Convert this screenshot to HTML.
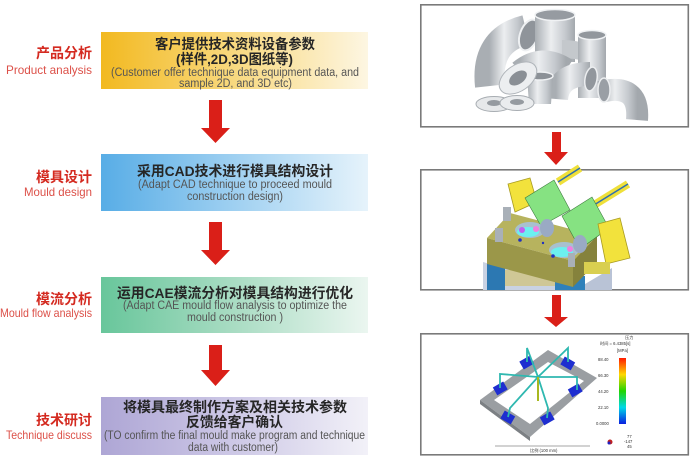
<!DOCTYPE html>
<html><head><meta charset="utf-8"><style>
html,body{margin:0;padding:0;background:#fff;}
svg{display:block;}
.cn{font-family:"Liberation Sans","Noto Sans CJK SC",sans-serif;font-weight:bold;}
.en{font-family:"Liberation Sans","Noto Sans CJK SC",sans-serif;}
</style></head><body>
<svg width="690" height="461" viewBox="0 0 690 461" xmlns="http://www.w3.org/2000/svg">
<defs>
<linearGradient id="g1" x1="0" x2="1" y1="0" y2="0"><stop offset="0" stop-color="#f2b920"/><stop offset="0.45" stop-color="#f8d676"/><stop offset="1" stop-color="#fdf6e2"/></linearGradient>
<linearGradient id="g2" x1="0" x2="1" y1="0" y2="0"><stop offset="0" stop-color="#58ade6"/><stop offset="0.5" stop-color="#9fd0f1"/><stop offset="1" stop-color="#e6f3fb"/></linearGradient>
<linearGradient id="g3" x1="0" x2="1" y1="0" y2="0"><stop offset="0" stop-color="#68c69b"/><stop offset="0.5" stop-color="#a9dcc3"/><stop offset="1" stop-color="#ebf6f0"/></linearGradient>
<linearGradient id="g4" x1="0" x2="1" y1="0" y2="0"><stop offset="0" stop-color="#aea6d5"/><stop offset="0.5" stop-color="#cdc8e6"/><stop offset="1" stop-color="#f2f1f8"/></linearGradient>
<linearGradient id="pv" x1="0" x2="1" y1="0" y2="0"><stop offset="0" stop-color="#a9aeb3"/><stop offset="0.4" stop-color="#eceef0"/><stop offset="0.75" stop-color="#c6cacf"/><stop offset="1" stop-color="#a3a8ad"/></linearGradient>
<linearGradient id="cb" x1="0" x2="0" y1="0" y2="1"><stop offset="0" stop-color="#ff1a00"/><stop offset="0.25" stop-color="#ffd800"/><stop offset="0.5" stop-color="#22d400"/><stop offset="0.75" stop-color="#00d8e8"/><stop offset="1" stop-color="#0a1ee0"/></linearGradient>
</defs>

<!-- Left labels -->
<g fill="#d42a20">
<text class="cn" x="36" y="58" font-size="14" textLength="56" lengthAdjust="spacingAndGlyphs">产品分析</text>
<text class="cn" x="36" y="182" font-size="14" textLength="56" lengthAdjust="spacingAndGlyphs">模具设计</text>
<text class="cn" x="36" y="304" font-size="14" textLength="56" lengthAdjust="spacingAndGlyphs">模流分析</text>
<text class="cn" x="36" y="425" font-size="14" textLength="56" lengthAdjust="spacingAndGlyphs">技术研讨</text>
</g>
<g fill="#dc5048">
<text class="en" x="6" y="74" font-size="12" textLength="86" lengthAdjust="spacingAndGlyphs">Product analysis</text>
<text class="en" x="24" y="196" font-size="12" textLength="68" lengthAdjust="spacingAndGlyphs">Mould design</text>
<text class="en" x="0" y="317" font-size="12" textLength="92" lengthAdjust="spacingAndGlyphs">Mould flow analysis</text>
<text class="en" x="6" y="439" font-size="12" textLength="86" lengthAdjust="spacingAndGlyphs">Technique discuss</text>
</g>

<!-- Boxes -->
<rect x="101" y="32" width="267" height="57" fill="url(#g1)"/>
<rect x="101" y="154" width="267" height="57" fill="url(#g2)"/>
<rect x="101" y="277" width="267" height="56" fill="url(#g3)"/>
<rect x="101" y="397" width="267" height="58" fill="url(#g4)"/>

<g fill="#262626">
<text class="cn" x="155" y="49" font-size="14" textLength="160" lengthAdjust="spacingAndGlyphs">客户提供技术资料设备参数</text>
<text class="cn" x="176" y="64" font-size="14" textLength="117" lengthAdjust="spacingAndGlyphs">(样件,2D,3D图纸等)</text>
<text class="cn" x="137" y="176" font-size="14" textLength="196" lengthAdjust="spacingAndGlyphs">采用CAD技术进行模具结构设计</text>
<text class="cn" x="117" y="298" font-size="14" textLength="236" lengthAdjust="spacingAndGlyphs">运用CAE模流分析对模具结构进行优化</text>
<text class="cn" x="123" y="412" font-size="14" textLength="224" lengthAdjust="spacingAndGlyphs">将模具最终制作方案及相关技术参数</text>
<text class="cn" x="186" y="427" font-size="14" textLength="97" lengthAdjust="spacingAndGlyphs">反馈给客户确认</text>
</g>
<g fill="#555">
<text class="en" x="111" y="76" font-size="11.5" textLength="248" lengthAdjust="spacingAndGlyphs">(Customer offer technique data equipment data, and</text>
<text class="en" x="179" y="87" font-size="11.5" textLength="113" lengthAdjust="spacingAndGlyphs">sample 2D, and 3D etc)</text>
<text class="en" x="138" y="188" font-size="11.5" textLength="194" lengthAdjust="spacingAndGlyphs">(Adapt CAD technique to proceed mould</text>
<text class="en" x="187" y="200" font-size="11.5" textLength="96" lengthAdjust="spacingAndGlyphs">construction design)</text>
<text class="en" x="123" y="309" font-size="11.5" textLength="224" lengthAdjust="spacingAndGlyphs">(Adapt CAE mould flow analysis to optimize the</text>
<text class="en" x="187" y="321" font-size="11.5" textLength="96" lengthAdjust="spacingAndGlyphs">mould construction )</text>
<text class="en" x="104" y="439" font-size="11.5" textLength="261" lengthAdjust="spacingAndGlyphs">(TO confirm the final mould make program and technique</text>
<text class="en" x="188" y="451" font-size="11.5" textLength="90" lengthAdjust="spacingAndGlyphs">data with customer)</text>
</g>

<!-- Left arrows -->
<g fill="#da1f18">
<path d="M209,100 H222 V128 H230 L215.5,143 L201,128 H209 Z"/>
<path d="M209,222 H222 V250 H230 L215.5,265 L201,250 H209 Z"/>
<path d="M209,345 H222 V370 H230 L215.5,386 L201,370 H209 Z"/>
<!-- Right arrows -->
<path d="M552,132 H561 V152 H568 L556,165 L544,152 H552 Z"/>
<path d="M552,295 H561 V317 H568 L556,327 L544,317 H552 Z"/>
</g>

<!-- Frames -->
<g fill="#fff" stroke="#7a7a7a" stroke-width="1.6">
<rect x="420.8" y="4.8" width="267.5" height="122"/>
<rect x="420.8" y="169.8" width="267.5" height="120"/>
<rect x="420.8" y="333.8" width="267.5" height="121"/>
</g>

<!-- Image 1: pipe fittings -->
<g>
<path d="M490,86 Q485,40 526,30" stroke="url(#pv)" stroke-width="30" fill="none"/>
<ellipse cx="529" cy="35" rx="9" ry="16" transform="rotate(20 529 35)" fill="#8f949a" stroke="#eef0f2" stroke-width="2"/>
<rect x="535" y="14" width="40" height="48" fill="url(#pv)"/>
<path d="M562,40 Q578,40 588,45 L588,62 Q574,58 562,58Z" fill="#c4c8cc"/>
<ellipse cx="555" cy="15" rx="20" ry="5.5" fill="#969ba1" stroke="#f0f2f4" stroke-width="1.5"/>
<rect x="578" y="34" width="28" height="64" fill="url(#pv)"/>
<ellipse cx="592" cy="35" rx="14" ry="4.5" fill="#92979d" stroke="#f0f2f4" stroke-width="1.5"/>
<path d="M520,72 Q542,54 566,70" stroke="url(#pv)" stroke-width="24" fill="none"/>
<path d="M600,92 Q640,82 637,120" stroke="url(#pv)" stroke-width="22" fill="none"/>
<ellipse cx="604" cy="90" rx="6" ry="12" fill="#9a9fa5" stroke="#eceef0" stroke-width="1.5"/>
<path d="M556,99 Q558,74 590,74" stroke="url(#pv)" stroke-width="24" fill="none"/>
<ellipse cx="591" cy="79" rx="6" ry="12" transform="rotate(10 591 79)" fill="#92979d" stroke="#eceef0" stroke-width="1.5"/>
<path d="M527,76 L553,76 L551,104 L529,104 Z" fill="url(#pv)"/>
<ellipse cx="540" cy="76" rx="13" ry="4" fill="#8c9197" stroke="#f0f2f4" stroke-width="1.5"/>
<ellipse cx="518" cy="78" rx="21" ry="13" transform="rotate(-35 518 78)" fill="#eceef0" stroke="#b0b5ba" stroke-width="1"/>
<ellipse cx="518" cy="78" rx="10" ry="6" transform="rotate(-35 518 78)" fill="#8a8f95"/>
<ellipse cx="494" cy="104" rx="18" ry="7.5" fill="#e6e8ea" stroke="#a8adb2" stroke-width="1"/>
<ellipse cx="494" cy="103" rx="7" ry="3" fill="#959aa0"/>
<ellipse cx="517" cy="103" rx="17" ry="7.5" fill="#eaecee" stroke="#a8adb2" stroke-width="1"/>
<ellipse cx="517" cy="102" rx="7" ry="3" fill="#959aa0"/>
</g>

<!-- Image 2: mould -->
<g>
<polygon points="483,262 530,276 575,290 483,290" fill="#c9d2e3"/>
<polygon points="575,290 612,268 612,290" fill="#b9c3d6"/>
<rect x="487" y="262" width="18" height="28" fill="#2c78b2"/>
<rect x="555" y="276" width="30" height="14" fill="#2e80ba"/>
<rect x="505" y="270" width="50" height="16" fill="#cfc796"/>
<path d="M558,182 L580,168" stroke="#efe03a" stroke-width="8"/>
<path d="M558,182 L580,168" stroke="#2e6fb0" stroke-width="1.5"/>
<path d="M594,205 L628,184" stroke="#efe03a" stroke-width="8"/>
<path d="M594,205 L628,184" stroke="#2e6fb0" stroke-width="1.5"/>
<polygon points="487,238 510,213 597,236 573,261" fill="#b7b35e"/>
<polygon points="487,238 573,261 573,287 487,264" fill="#9b9749"/>
<polygon points="573,261 597,236 597,262 573,287" fill="#85823c"/>
<polygon points="508,184 530,178 537,202 515,212" fill="#f2e23c" stroke="#a89b20" stroke-width="0.8"/>
<rect x="503" y="207" width="8" height="14" fill="#a9b0b8"/>
<rect x="495" y="228" width="8" height="14" fill="#a9b0b8"/>
<polygon points="525,198 554,180 570,210 541,226" fill="#86e282" stroke="#3d7b3d" stroke-width="0.6"/>
<polygon points="562,216 592,197 609,228 580,249" fill="#86e282" stroke="#3d7b3d" stroke-width="0.6"/>
<ellipse cx="530" cy="230" rx="15" ry="8" fill="#a8c0d0"/>
<ellipse cx="528" cy="232" rx="11" ry="5" fill="#6cf0f0"/>
<circle cx="536" cy="229" r="3" fill="#f080e0"/>
<circle cx="522" cy="230" r="3" fill="#c060f0"/>
<ellipse cx="564" cy="250" rx="15" ry="8" fill="#a8c0d0"/>
<ellipse cx="562" cy="252" rx="11" ry="5" fill="#6cf0f0"/>
<circle cx="570" cy="249" r="3" fill="#f080e0"/>
<ellipse cx="547" cy="228" rx="7" ry="9" fill="#9aaac4"/>
<ellipse cx="580" cy="244" rx="7" ry="9" fill="#9aaac4"/>
<polygon points="598,224 620,218 630,258 606,264" fill="#f2e23c" stroke="#a89b20" stroke-width="0.8"/>
<rect x="584" y="262" width="26" height="12" fill="#d9cf50"/>
<rect x="568" y="253" width="7" height="14" fill="#a9b0b8"/>
<circle cx="520" cy="240" r="1.8" fill="#2030c0"/>
<circle cx="553" cy="256" r="1.8" fill="#2030c0"/>
<circle cx="543" cy="243" r="1.2" fill="#2030c0"/>
</g>

<!-- Image 3: mould flow -->
<g>
<polygon points="480,400 548,350 597,378 530,437" fill="#9a9ea2"/>
<polygon points="494,400 548,362 584,381 530,424" fill="#fff"/>
<polygon points="480,400 530,437 530,441 480,404" fill="#7c8084"/>
<g fill="#1e2ed0">
<rect x="521" y="358" width="12" height="9" transform="rotate(-30 527 363)"/>
<rect x="562" y="359" width="12" height="9" transform="rotate(30 568 363)"/>
<rect x="494" y="384" width="12" height="9" transform="rotate(-30 500 388)"/>
<rect x="569" y="386" width="12" height="9" transform="rotate(-30 575 390)"/>
<rect x="502" y="413" width="12" height="9" transform="rotate(30 508 417)"/>
<rect x="541" y="414" width="12" height="9" transform="rotate(-30 547 418)"/>
</g>
<g stroke="#2fb8b0" stroke-width="1.8" fill="none">
<path d="M538,377 L527,348 L527,362"/>
<path d="M538,377 L568,348 L568,362"/>
<path d="M538,377 L500,374 L500,388"/>
<path d="M538,377 L577,377 L577,390"/>
<path d="M538,377 L510,408 L508,417"/>
<path d="M538,377 L548,408 L547,418"/>
</g>
<path d="M538,377 L538,401" stroke="#a8b820" stroke-width="2"/>
<rect x="619" y="358" width="7" height="66" fill="url(#cb)"/>
<g class="en" font-size="4.2" fill="#333">
<text x="625" y="339">压力</text>
<text x="600" y="345">时间 = 6.4385[s]</text>
<text x="617" y="352">[MPa]</text>
<text x="598" y="361">88.40</text>
<text x="598" y="377">66.30</text>
<text x="598" y="393">44.20</text>
<text x="598" y="409">22.10</text>
<text x="596" y="425">0.0000</text>
<text x="627" y="438">77</text>
<text x="624" y="443">-147</text>
<text x="627" y="448">45</text>
<text x="530" y="452">比例 (100 mm)</text>
</g>
<circle cx="610" cy="442" r="2.5" fill="#c02020"/>
<circle cx="609" cy="443" r="1.5" fill="#2020c0"/>
<line x1="495" y1="446" x2="590" y2="446" stroke="#888" stroke-width="0.8"/>
</g>
</svg>
</body></html>
